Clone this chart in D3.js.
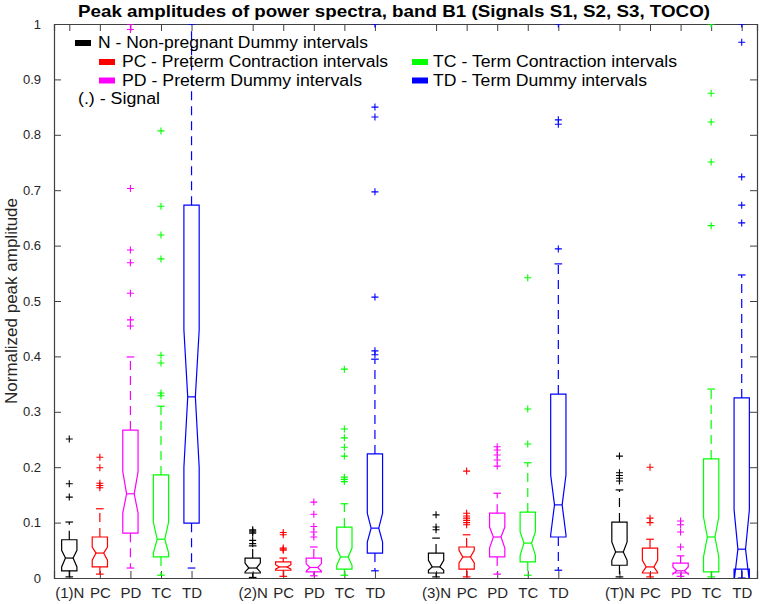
<!DOCTYPE html>
<html><head><meta charset="utf-8">
<script src="https://cdn.jsdelivr.net/npm/d3@7"></script>
<style>
html,body{margin:0;padding:0;background:#fff;}
svg{display:block;font-family:"Liberation Sans",Arial,Helvetica,sans-serif;}
</style></head>
<body>
<svg id="chart" width="760" height="604"></svg>
<script>
// ---- data ----
const title = "Peak amplitudes of power spectra, band B1 (Signals S1, S2, S3, TOCO)";
const yLabel = "Normalized peak amplitude";
const classes = ["N", "PC", "PD", "TC", "TD"];
const classColors = ["#000000", "#ff0000", "#ff00ff", "#00ff00", "#0000ff"];
const groups = ["(1)", "(2)", "(3)", "(T)"];
const positions = [1,2,3,4,5, 7,8,9,10,11, 13,14,15,16,17, 19,20,21,22,23];
const tickLabels = ["(1)N","PC","PD","TC","TD","(2)N","PC","PD","TC","TD","(3)N","PC","PD","TC","TD","(T)N","PC","PD","TC","TD"];
const yTicks = [0,0.1,0.2,0.3,0.4,0.5,0.6,0.7,0.8,0.9,1];

const q1  = [0.013,0.020,0.081,0.038,0.099, 0.009,0.014,0.011,0.016,0.045, 0.009,0.016,0.038,0.029,0.074, 0.023,0.009,0.009,0.011,0.016];
const med = [0.036,0.045,0.152,0.070,0.327, 0.018,0.020,0.019,0.038,0.090, 0.020,0.038,0.074,0.063,0.132, 0.047,0.020,0.013,0.074,0.052];
const q3  = [0.069,0.074,0.267,0.186,0.673, 0.036,0.029,0.036,0.092,0.224, 0.045,0.056,0.117,0.119,0.332, 0.101,0.054,0.027,0.215,0.325];
const notchLo = [0.020,0.032,0.117,0.045,0.200, 0.011,0.016,0.012,0.023,0.065, 0.014,0.027,0.054,0.041,0.078, 0.032,0.010,0.007,0.038,-0.006];
const notchHi = [0.050,0.056,0.192,0.101,0.448, 0.027,0.024,0.026,0.054,0.117, 0.032,0.050,0.092,0.083,0.186, 0.065,0.032,0.020,0.110,0.123];
const whiskLo = [0.002,0.007,0.018,0.005,0.018, 0.001,0.003,0.004,0.005,0.013, 0.002,0.002,0.007,0.005,0.014, 0.002,0.002,0.003,0.002,0.000];
const whiskHi = [0.101,0.125,0.399,0.310,1.000, 0.058,0.036,0.056,0.134,0.395, 0.072,0.078,0.153,0.208,0.567, 0.159,0.070,0.040,0.341,0.547];
const outliers = [
  [0.146,0.170,0.251],
  [0.163,0.167,0.171,0.199,0.218],
  [0.455,0.466,0.514,0.569,0.592,0.703,0.990,1.000],
  [0.329,0.334,0.388,0.402,0.576,0.619,0.671,0.807],
  [],
  [0.062,0.068,0.081,0.083,0.085,0.087],
  [0.050,0.052,0.054,0.078,0.082],
  [0.074,0.083,0.093,0.115,0.137],
  [0.174,0.178,0.182,0.220,0.236,0.253,0.269,0.377],
  [0.403,0.410,0.507,0.697,0.832,0.850,1.000],
  [0.087,0.092,0.114],
  [0.096,0.100,0.104,0.108,0.112,0.117,0.193],
  [0.202,0.213,0.222,0.231,0.237],
  [0.242,0.305,0.542],
  [0.594,0.819,0.827,1.000],
  [0.175,0.180,0.185,0.190,0.220],
  [0.100,0.108,0.200],
  [0.056,0.083,0.096,0.103],
  [0.636,0.751,0.823,0.875,1.000],
  [0.641,0.673,0.724,0.967,1.000]
];
const legendItems = [
  {label:"N - Non-pregnant Dummy intervals", cls:0},
  {label:"PC - Preterm Contraction intervals", cls:1},
  {label:"TC - Term Contraction intervals", cls:3},
  {label:"PD - Preterm Dummy intervals", cls:2},
  {label:"TD - Term Dummy intervals", cls:4}
];
const legendNote = "(.) - Signal";

// ---- layout ----
const svg = d3.select("#chart");
const L = 54, R = 757, T = 24, B = 578;
const x = d3.scaleLinear().domain([0.5, 23.5]).range([L, R]);
const y = d3.scaleLinear().domain([0, 1]).range([B, T]);
const boxW = 0.5;
const axisColor = "#404040";

svg.append("defs").append("clipPath").attr("id","clip")
  .append("rect").attr("x",L).attr("y",T).attr("width",R-L).attr("height",B-T);

// Title
svg.append("text").attr("x", 394).attr("y", 17).attr("text-anchor","middle")
  .attr("font-weight","bold").attr("font-size","17px").attr("fill","#000")
  .attr("textLength", 632).attr("lengthAdjust","spacingAndGlyphs")
  .text(title);

// Axes
const yAxisL = d3.axisLeft(y).tickValues(yTicks).tickSize(-7).tickPadding(13)
  .tickFormat(d => d3.format("")(+d.toFixed(1)));
const gyl = svg.append("g").attr("transform",`translate(${L},0)`).call(yAxisL);
const yAxisR = d3.axisRight(y).tickValues(yTicks).tickSize(-7).tickFormat("");
const gyr = svg.append("g").attr("transform",`translate(${R},0)`).call(yAxisR);
const xAxisB = d3.axisBottom(x).tickValues(positions).tickSize(-7).tickPadding(9)
  .tickFormat((d,i) => tickLabels[i]);
const gxb = svg.append("g").attr("transform",`translate(0,${B})`).call(xAxisB);
const xAxisT = d3.axisTop(x).tickValues(positions).tickSize(-7).tickFormat("");
const gxt = svg.append("g").attr("transform",`translate(0,${T})`).call(xAxisT);
[gyl,gyr,gxb,gxt].forEach(g => {
  g.selectAll(".domain").attr("stroke", axisColor).attr("stroke-width",1.2);
  g.selectAll(".tick line").attr("stroke", axisColor).attr("stroke-width",1);
  g.selectAll(".tick text").attr("fill","#262626").attr("font-family","'Liberation Sans',Arial,sans-serif");
});
gyl.selectAll(".tick text").attr("font-size","13px");
gxb.selectAll(".tick text").attr("font-size","15px");

// Y label
svg.append("text").attr("transform",`translate(17,${(T+B)/2}) rotate(-90)`)
  .attr("text-anchor","middle").attr("font-size","17px").attr("fill","#262626")
  .text(yLabel);

// Boxes
const plot = svg.append("g").attr("clip-path","url(#clip)");
positions.forEach((p, i) => {
  const c = classColors[i % 5];
  const xl = x(p - boxW/2), xr = x(p + boxW/2), xc = x(p);
  const xil = x(p - boxW/4), xir = x(p + boxW/4);
  const capl = x(p - boxW/4), capr = x(p + boxW/4);
  const g = plot.append("g").attr("fill","none").attr("stroke", c).attr("stroke-width",1.2);
  g.append("line").attr("x1",xc).attr("x2",xc).attr("y1",y(q3[i])).attr("y2",y(whiskHi[i]))
    .attr("stroke-dasharray","9,6");
  g.append("line").attr("x1",xc).attr("x2",xc).attr("y1",y(q1[i])).attr("y2",y(whiskLo[i]))
    .attr("stroke-dasharray","9,6");
  g.append("line").attr("x1",capl).attr("x2",capr).attr("y1",y(whiskHi[i])).attr("y2",y(whiskHi[i]));
  g.append("line").attr("x1",capl).attr("x2",capr).attr("y1",y(whiskLo[i])).attr("y2",y(whiskLo[i]));
  const pts = [
    [xl, y(q1[i])], [xl, y(notchLo[i])], [xil, y(med[i])], [xl, y(notchHi[i])], [xl, y(q3[i])],
    [xr, y(q3[i])], [xr, y(notchHi[i])], [xir, y(med[i])], [xr, y(notchLo[i])], [xr, y(q1[i])]
  ];
  g.append("path").attr("d", d3.line()(pts) + "Z").attr("stroke-linejoin","miter");
  g.append("line").attr("x1",xil).attr("x2",xir).attr("y1",y(med[i])).attr("y2",y(med[i]));
  outliers[i].forEach(v => {
    const cy = y(v), s = 3.5;
    g.append("path").attr("d",`M${xc-s},${cy}H${xc+s}M${xc},${cy-s}V${cy+s}`).attr("stroke-width",1.1);
  });
});

// Legend
const leg = svg.append("g").attr("font-size","16px").attr("fill","#000");
const legPos = [
  {sx:75, tx:98, y:48, w:270},
  {sx:99, tx:122, y:67, w:266},
  {sx:412, tx:433, y:67, w:244},
  {sx:99, tx:122, y:85.5, w:240},
  {sx:412, tx:433, y:85.5, w:214}
];
legendItems.forEach((it, k) => {
  const p = legPos[k];
  leg.append("rect").attr("x",p.sx).attr("y",p.y-8).attr("width",16).attr("height",6)
    .attr("fill", classColors[it.cls]);
  leg.append("text").attr("x",p.tx).attr("y",p.y)
    .attr("textLength", p.w).attr("lengthAdjust","spacingAndGlyphs").text(it.label);
});
leg.append("text").attr("x",78).attr("y",104).attr("textLength",82)
  .attr("lengthAdjust","spacingAndGlyphs").text(legendNote);
</script>
</body></html>
